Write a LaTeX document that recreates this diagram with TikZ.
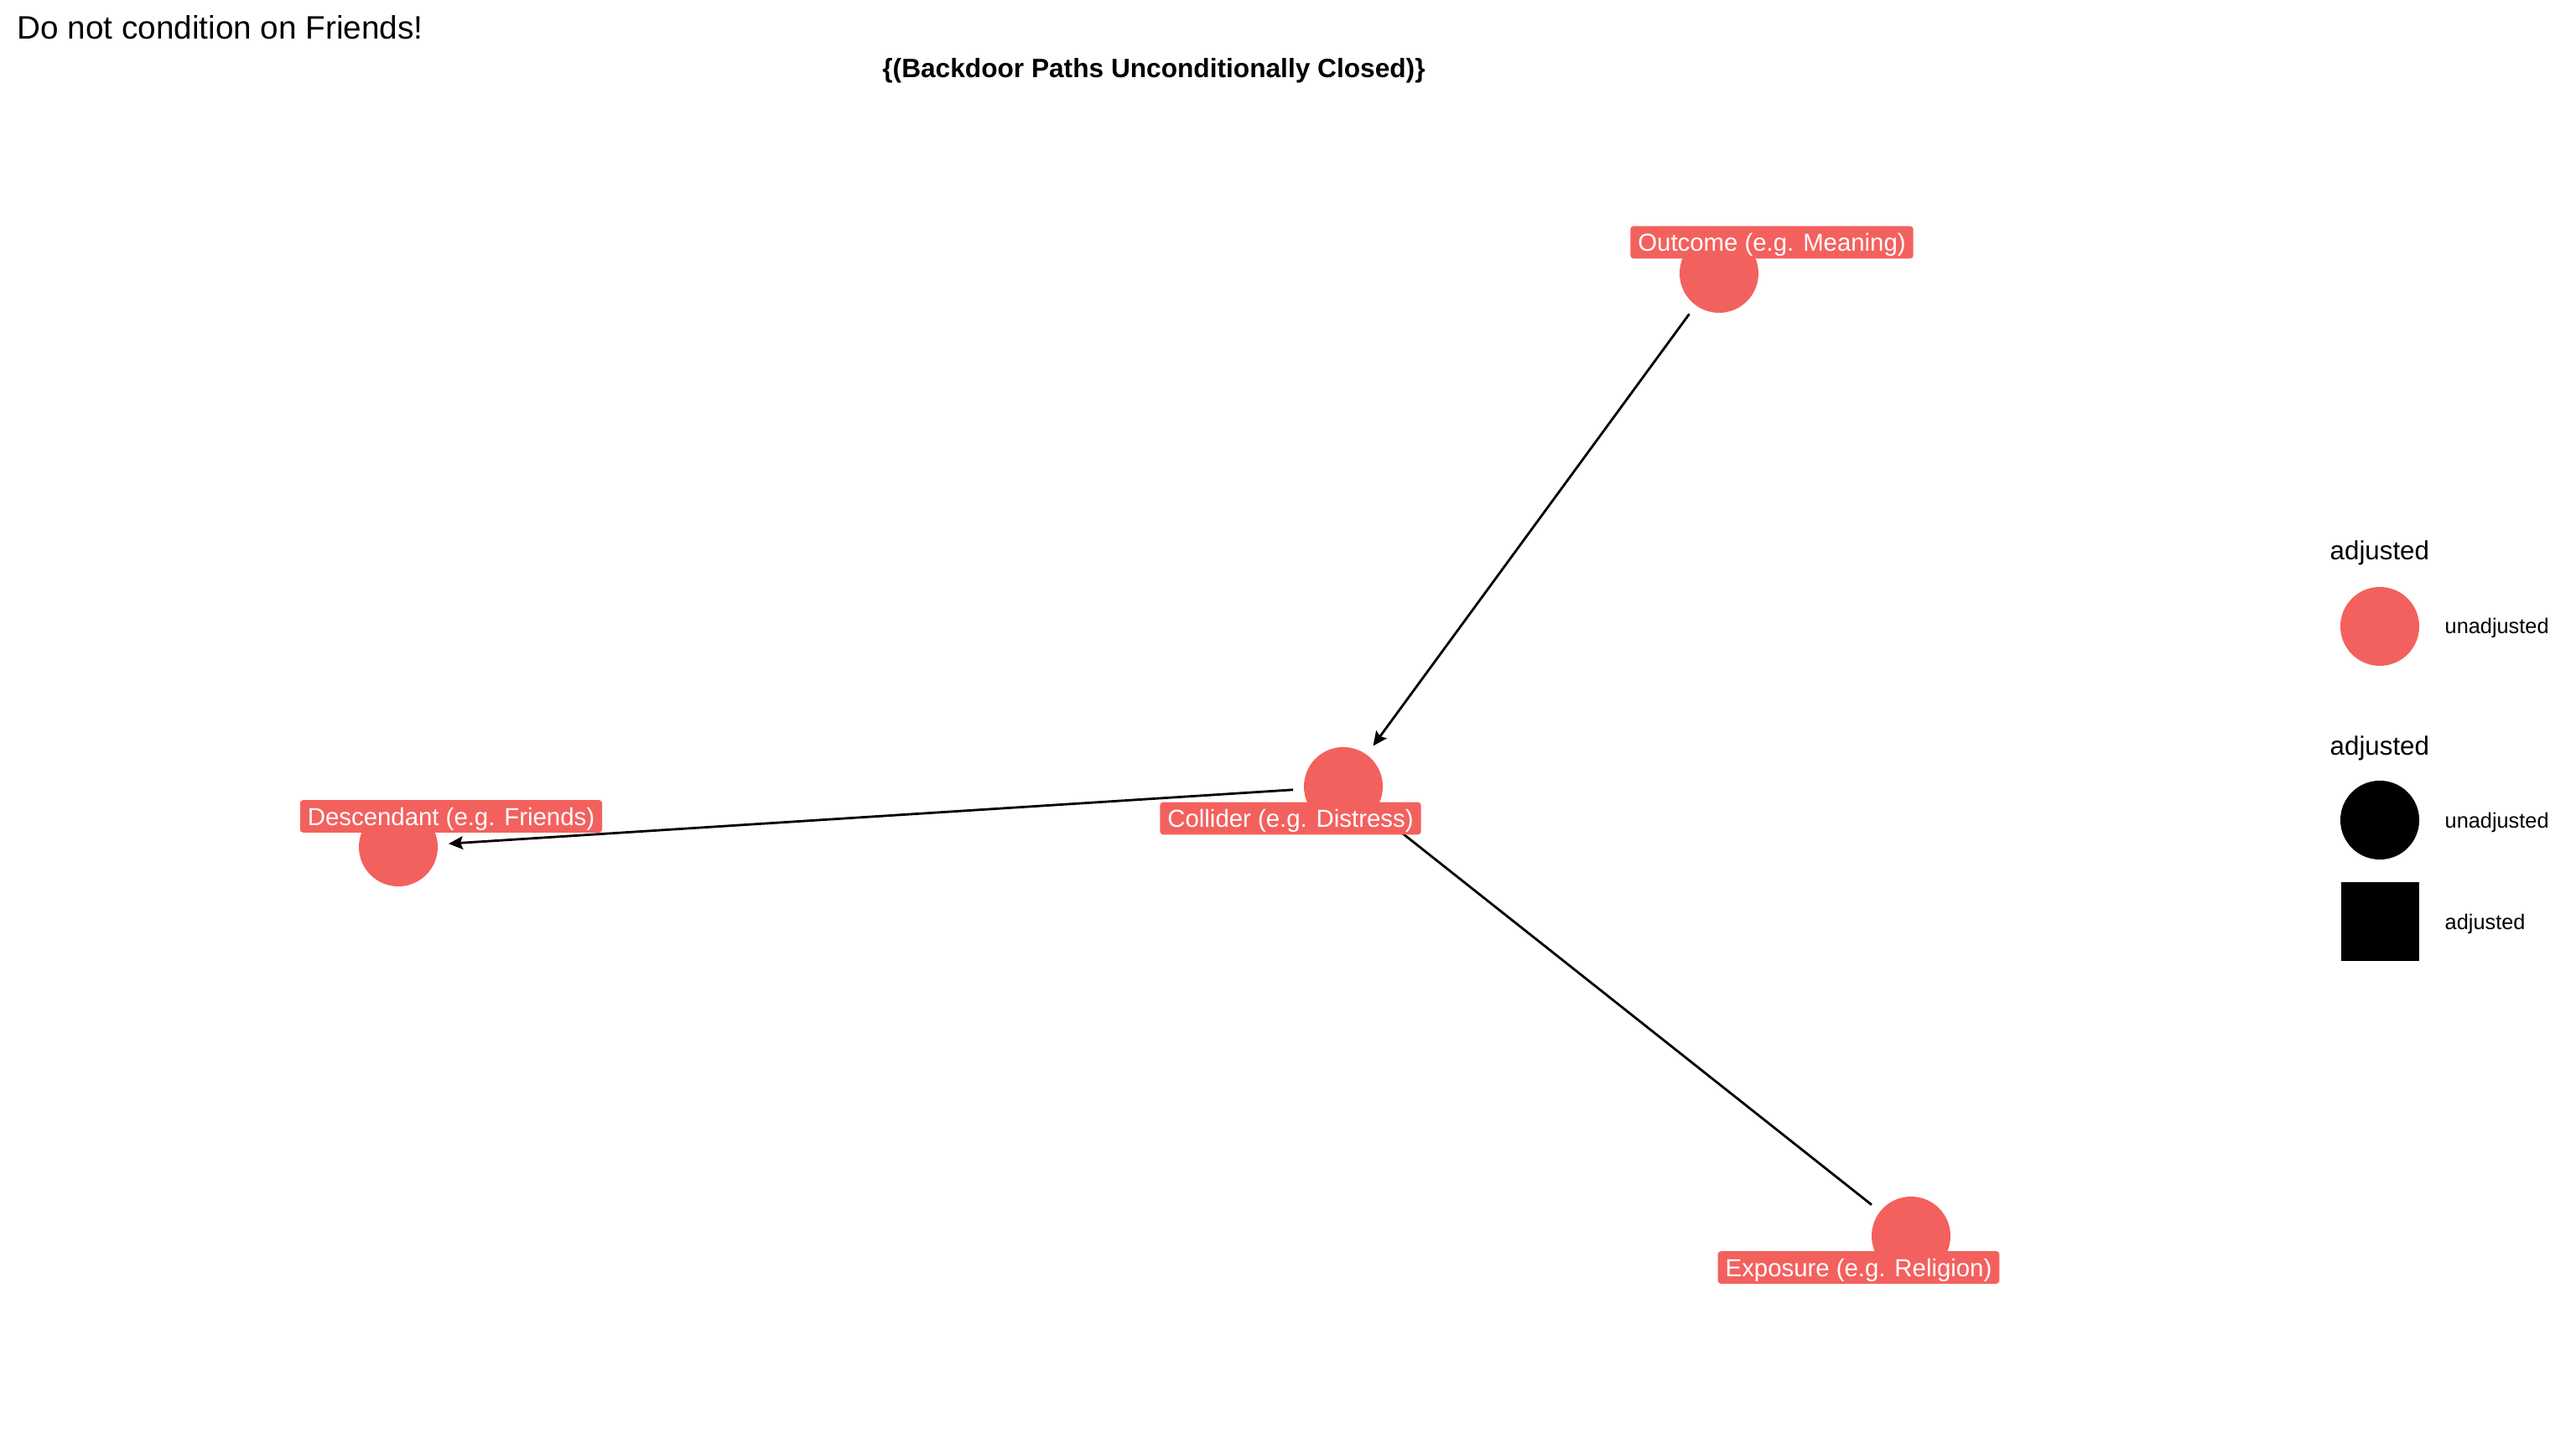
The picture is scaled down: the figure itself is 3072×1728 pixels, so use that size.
\documentclass[tikz,border=0pt]{standalone}
\usepackage{fontspec}
\setmainfont{Liberation Sans}
\usetikzlibrary{arrows.meta}
\definecolor{nodered}{RGB}{243,97,94}
\tikzset{
  dagnode/.style={circle, fill=nodered, minimum size=0.94cm, inner sep=0pt},
  daglabel/.style={fill=nodered, text=white, rounded corners=0.035cm, inner xsep=0.09cm, inner ysep=0pt,
     text height=0.30cm, text depth=0.085cm, font=\fontsize{8.35}{10}\selectfont},
  dagedge/.style={line width=0.8pt, shorten <=0.6cm, shorten >=0.6cm},
  dagarrow/.style={dagedge, -{Stealth[length=0.17cm, width=0.155cm, inset=0.03cm]}},
  legtitle/.style={anchor=base west, inner sep=0pt, font=\fontsize{8.9}{10}\selectfont},
  legitem/.style={anchor=base west, inner sep=0pt, font=\fontsize{7.2}{9}\selectfont},
}
\begin{document}
\begin{tikzpicture}[x=0.01cm, y=-0.01cm]
\useasboundingbox[fill=white] (0,0) rectangle (3072,1728);
% titles
\node[anchor=base west, inner sep=0pt, font=\fontsize{11}{13}\selectfont] (title) at (20,47) {Do not condition on Friends!};
\node[anchor=base, inner sep=0pt, font=\bfseries\fontsize{9}{11}\selectfont] (subtitle) at (1376,93) {\{(Backdoor Paths Unconditionally Closed)\}};
% node centres
\coordinate (outc) at (2050,326);
\coordinate (coll) at (1602,938);
\coordinate (desc) at (475,1010);
\coordinate (expo) at (2279,1474);
% edges
\draw[dagarrow] (outc) -- (coll);
\draw[dagarrow] (coll) -- (desc);
\draw[dagarrow] (expo) -- (coll);
% nodes
\node[dagnode] (outcn) at (outc) {};
\node[dagnode] (colln) at (coll) {};
\node[dagnode] (descn) at (desc) {};
\node[dagnode] (expon) at (expo) {};
% labels
\node[daglabel] (outcl) at (2113,289) {Outcome (e.g. Meaning)};
\node[daglabel] (colll) at (1539,976) {Collider (e.g. Distress)};
\node[daglabel] (descl) at (538,973.5) {Descendant (e.g. Friends)};
\node[daglabel] (expol) at (2216.5,1511.5) {Exposure (e.g. Religion)};
% legend
\node[legtitle] (lt1) at (2778,668) {adjusted};
\node[circle, fill=nodered, minimum size=0.94cm, inner sep=0pt] (lc1) at (2838,747) {};
\node[legitem] (li1) at (2915,756) {unadjusted};
\node[legtitle] (lt2) at (2778,900) {adjusted};
\node[circle, fill=black, minimum size=0.94cm, inner sep=0pt] (lc2) at (2838,978) {};
\node[legitem] (li2) at (2915,988) {unadjusted};
\node[rectangle, fill=black, minimum size=0.93cm, inner sep=0pt] (ls3) at (2838.5,1099) {};
\node[legitem] (li3) at (2915,1108) {adjusted};
\end{tikzpicture}
\end{document}
